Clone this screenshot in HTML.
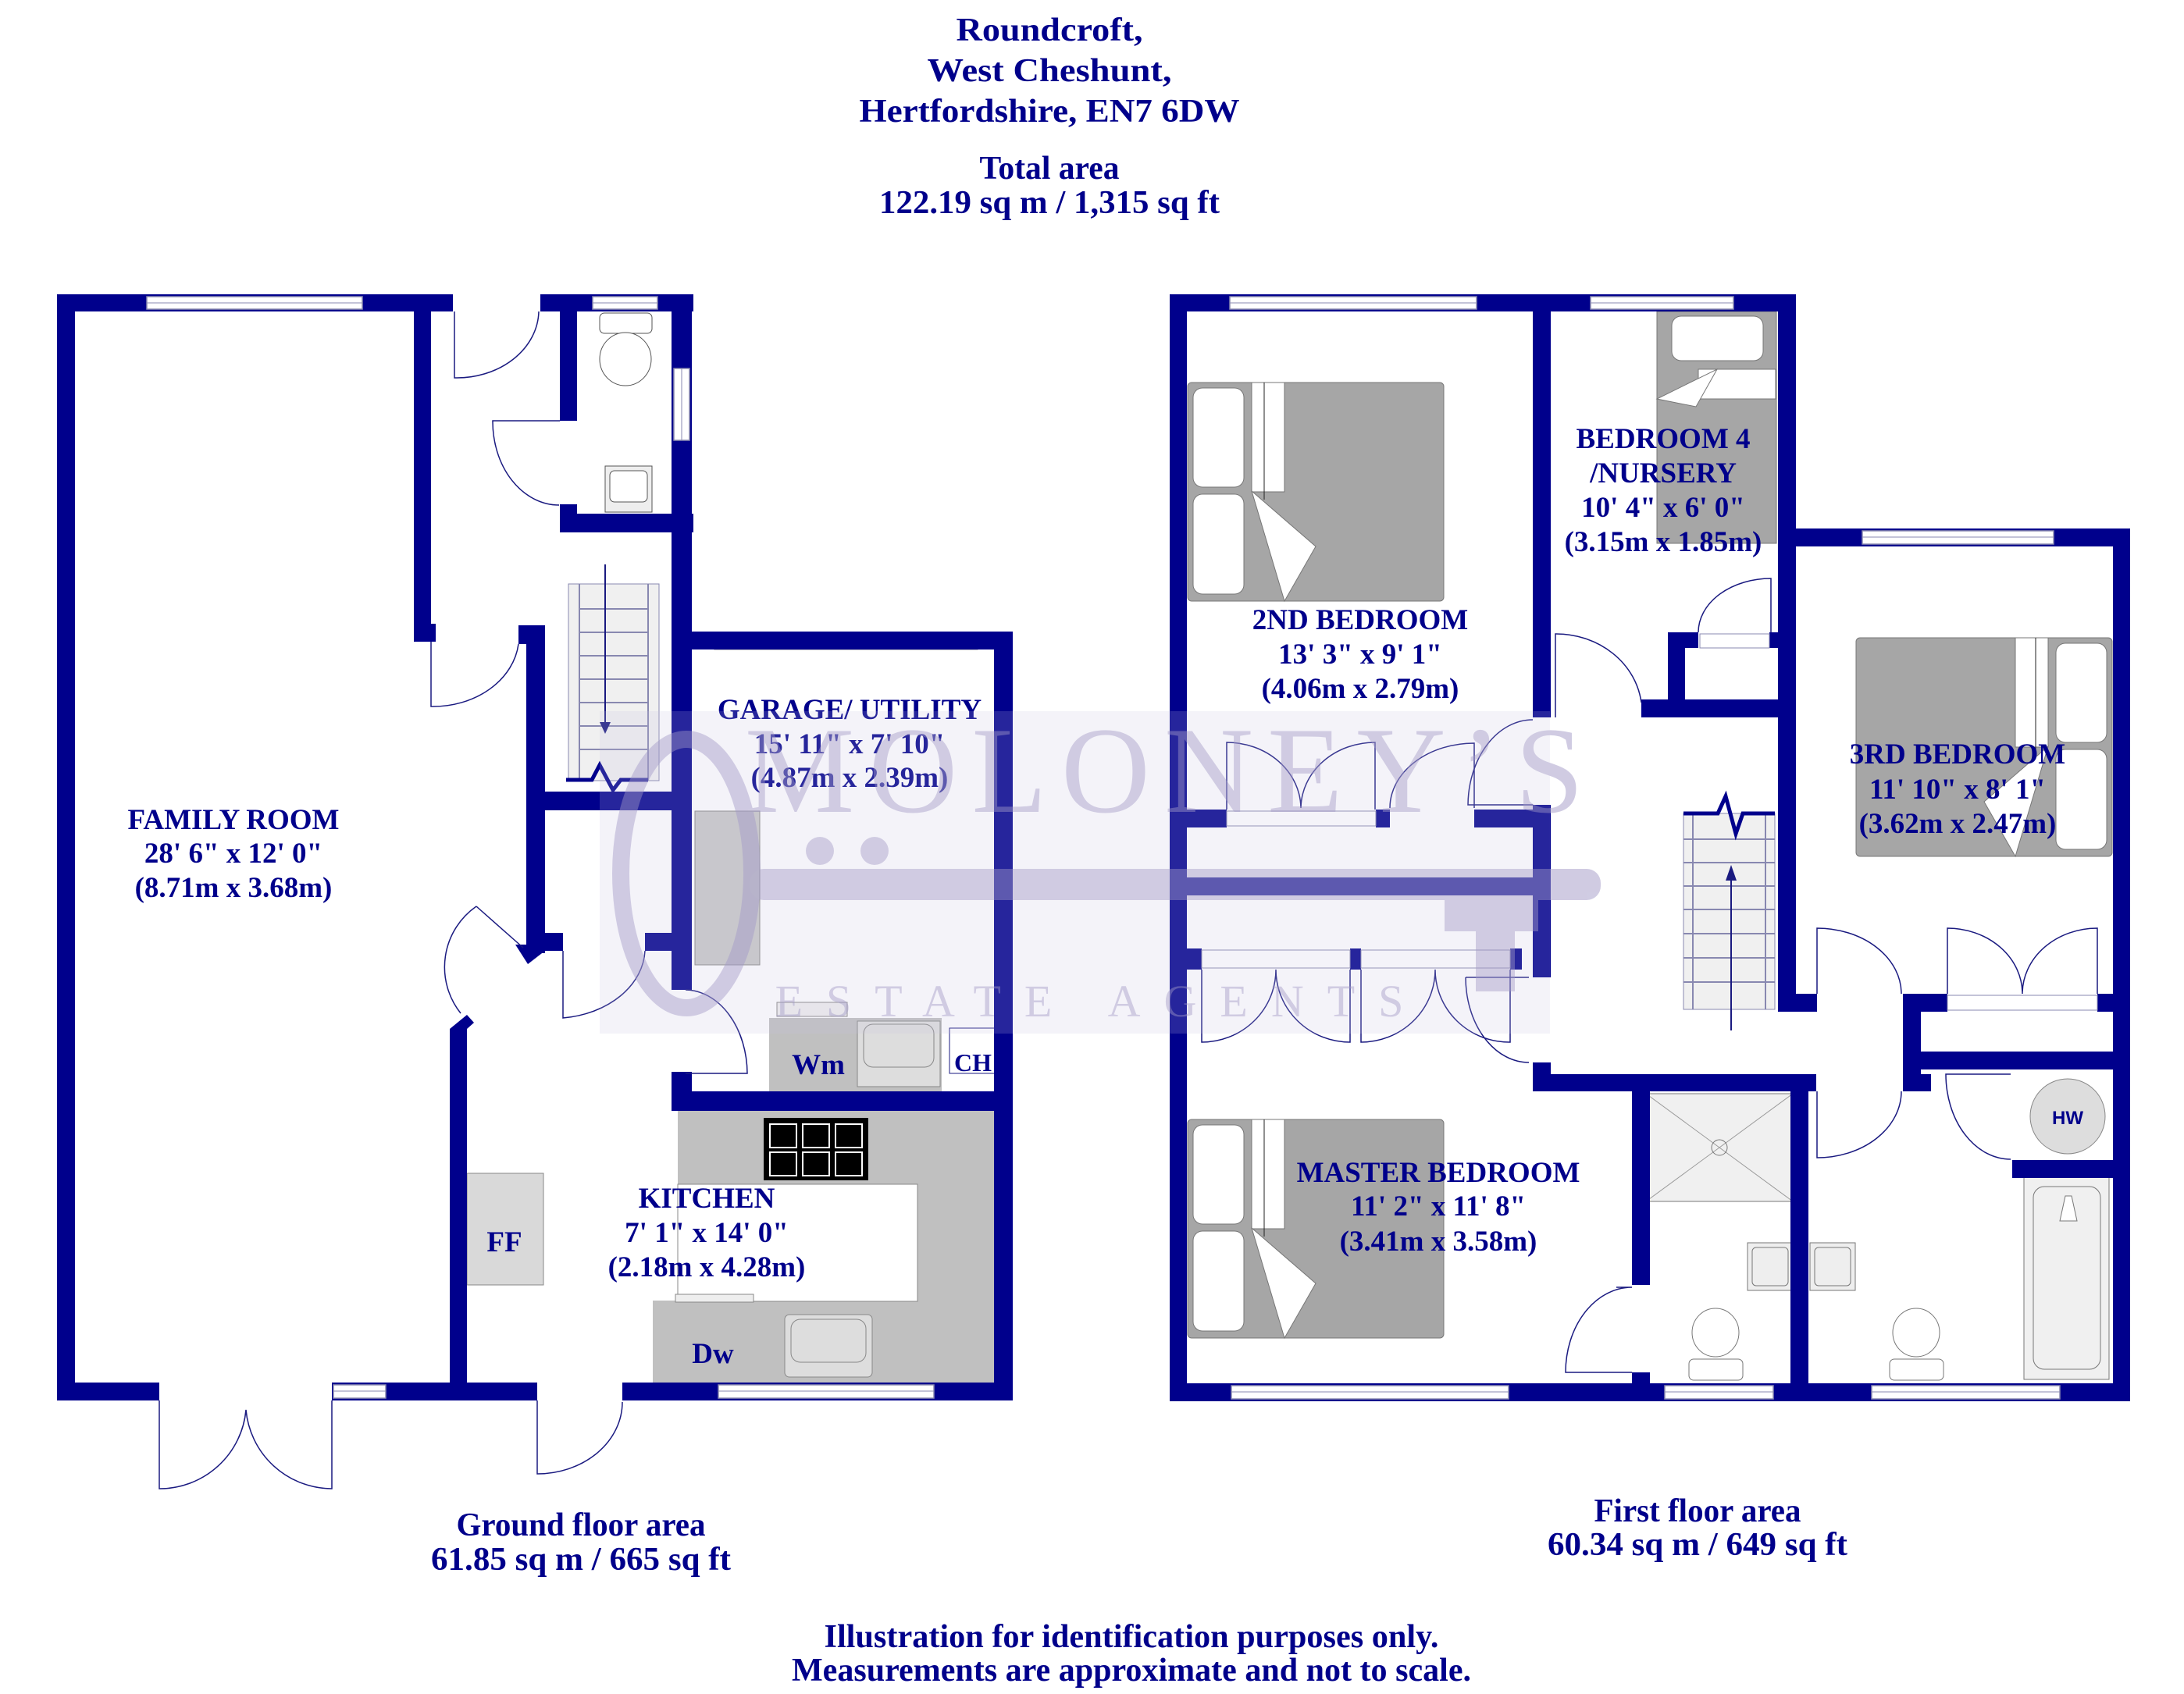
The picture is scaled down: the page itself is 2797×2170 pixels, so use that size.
<!DOCTYPE html>
<html><head><meta charset="utf-8"><style>
html,body{margin:0;padding:0;background:#fff;}
svg{display:block}
.w{fill:#00008c}
.t{font-family:"Liberation Serif",serif;font-weight:bold;fill:#00008b;text-anchor:middle}
.r{font-size:37px}
.h{font-size:42px}
.l{fill:none;stroke:#1a1a80;stroke-width:1.5}
.win{fill:#fff;stroke:#8a8ab0;stroke-width:1.5}
</style></head><body>
<svg width="2797" height="2170" viewBox="0 0 2797 2170" xmlns="http://www.w3.org/2000/svg">
<text class="t h" x="1344" y="52" textLength="239" lengthAdjust="spacingAndGlyphs">Roundcroft,</text>
<text class="t h" x="1344" y="104" textLength="313" lengthAdjust="spacingAndGlyphs">West Cheshunt,</text>
<text class="t h" x="1344" y="156" textLength="487" lengthAdjust="spacingAndGlyphs">Hertfordshire, EN7 6DW</text>
<text class="t h" x="1344" y="229" textLength="179" lengthAdjust="spacingAndGlyphs">Total area</text>
<text class="t h" x="1344" y="273" textLength="436" lengthAdjust="spacingAndGlyphs">122.19 sq m / 1,315 sq ft</text>

<rect x="868" y="1423" width="407" height="95" fill="#c0c0c0"/>
<rect x="1175" y="1517" width="100" height="151" fill="#c0c0c0"/>
<rect x="836" y="1666" width="439" height="105" fill="#c0c0c0"/>
<rect x="868" y="1517" width="307" height="150" fill="#fff" stroke="#888" stroke-width="1"/>
<rect x="978" y="1432" width="134" height="80" fill="#000"/>
<g stroke="#fff" stroke-width="2" fill="none">
<rect x="986" y="1440" width="34" height="30"/><rect x="1028" y="1440" width="34" height="30"/><rect x="1070" y="1440" width="34" height="30"/>
<rect x="986" y="1476" width="34" height="30"/><rect x="1028" y="1476" width="34" height="30"/><rect x="1070" y="1476" width="34" height="30"/>
</g>
<rect x="1005" y="1684" width="112" height="80" rx="6" fill="#ddd" stroke="#888"/>
<rect x="1013" y="1690" width="96" height="55" rx="12" fill="none" stroke="#888"/>
<rect x="865" y="1658" width="100" height="10" fill="#eee" stroke="#888"/>
<rect x="598" y="1503" width="98" height="143" fill="#d9d9d9" stroke="#888"/>
<rect x="890" y="1039" width="83" height="197" fill="#c8c8c8" stroke="#888"/>
<rect x="985" y="1304" width="221" height="94" fill="#c0c0c0"/>
<rect x="1098" y="1308" width="106" height="84" fill="#ddd" stroke="#888"/>
<rect x="1106" y="1312" width="90" height="55" rx="12" fill="none" stroke="#888"/>
<rect x="995" y="1284" width="90" height="18" fill="#eee" stroke="#888"/>
<rect x="1216" y="1317" width="59" height="58" fill="#fff" stroke="#1a1a80"/>
<path d="M920 820 L940 810 L1235 810 L1252 820 L1252 832 L915 832 Z" fill="#ddd" stroke="#888"/>
<rect x="768" y="401" width="67" height="26" rx="6" fill="#fff" stroke="#555"/>
<ellipse cx="801" cy="460" rx="33" ry="34" fill="#fff" stroke="#555"/>
<rect x="775" y="597" width="60" height="59" fill="#eee" stroke="#555"/>
<rect x="781" y="603" width="48" height="40" rx="6" fill="#fff" stroke="#555"/>
<rect x="728" y="748" width="116" height="252" fill="#f0f0f0" stroke="#8888b0"/>
<g stroke="#8888b0" stroke-width="2">
<line x1="742" y1="748" x2="742" y2="1000"/><line x1="830" y1="748" x2="830" y2="1000"/>
<line x1="742" y1="780" x2="830" y2="780"/><line x1="742" y1="810" x2="830" y2="810"/><line x1="742" y1="840" x2="830" y2="840"/><line x1="742" y1="870" x2="830" y2="870"/><line x1="742" y1="900" x2="830" y2="900"/><line x1="742" y1="930" x2="830" y2="930"/><line x1="742" y1="960" x2="830" y2="960"/>
</g>
<line x1="775" y1="723" x2="775" y2="925" stroke="#1a1a80" stroke-width="2"/>
<path d="M768 925 L782 925 L775 940 Z" fill="#1a1a80"/>
<path d="M725 999 L758 999 L768 980 L785 1012 L795 999 L830 999" fill="none" stroke="#00008c" stroke-width="5"/>

<g class="w">
<rect x="73" y="377" width="23" height="1417"/>
<rect x="73" y="377" width="507" height="22"/>
<rect x="530" y="377" width="22" height="445"/>
<rect x="530" y="799" width="28" height="23"/>
<rect x="692" y="377" width="196" height="22"/>
<rect x="717" y="377" width="22" height="162"/>
<rect x="717" y="646" width="22" height="36"/>
<rect x="717" y="658" width="171" height="24"/>
<rect x="860" y="377" width="26" height="891"/>
<rect x="860" y="1373" width="26" height="50"/>
<rect x="860" y="809" width="437" height="23"/>
<rect x="1273" y="809" width="24" height="985"/>
<rect x="860" y="1398" width="437" height="25"/>
<rect x="664" y="801" width="34" height="24"/>
<rect x="674" y="801" width="24" height="420"/>
<rect x="674" y="1014" width="186" height="24"/>
<rect x="674" y="1195" width="47" height="23"/>
<rect x="826" y="1195" width="34" height="23"/>
<path d="M660 1210 L698 1210 L698 1218 L676 1235 Z"/>
<path d="M576 1318 L598 1300 L607 1310 L598 1318 L598 1794 L576 1794 Z"/>
<rect x="73" y="1771" width="131" height="23"/>
<rect x="425" y="1771" width="263" height="23"/>
<rect x="797" y="1771" width="500" height="23"/>
</g>
<rect class="win" x="188" y="380" width="276" height="16"/><line x1="188" y1="388" x2="464" y2="388" stroke="#8a8ab0"/>
<rect class="win" x="759" y="380" width="83" height="16"/><line x1="759" y1="388" x2="842" y2="388" stroke="#8a8ab0"/>
<rect class="win" x="863" y="472" width="20" height="92"/><line x1="873" y1="472" x2="873" y2="564" stroke="#8a8ab0"/>
<rect class="win" x="427" y="1774" width="67" height="17"/><line x1="427" y1="1782" x2="494" y2="1782" stroke="#8a8ab0"/>
<rect class="win" x="920" y="1774" width="276" height="17"/><line x1="920" y1="1782" x2="1196" y2="1782" stroke="#8a8ab0"/>
<path class="l" d="M582 399 L582 484 A105 87 0 0 0 690 399"/>
<path class="l" d="M717 539 L631 539 A85 107 0 0 0 716 647"/>
<path class="l" d="M552 822 L552 905 A110 90 0 0 0 664 825"/>
<path class="l" d="M610 1161 L670 1214 M610 1161 A95 95 0 0 0 590 1298"/>
<path class="l" d="M721 1218 L721 1304 A118 90 0 0 0 826 1218"/>
<path class="l" d="M878 1268 A80 108 0 0 1 957 1375 L878 1375"/>
<path class="l" d="M204 1794 L204 1907 A111 111 0 0 0 315 1806 A111 111 0 0 0 425 1907 L425 1794"/>
<path class="l" d="M688 1794 L688 1888 A109 92 0 0 0 797 1796"/>

<text class="t r" x="299" y="1062">FAMILY ROOM</text>
<text class="t r" x="299" y="1105">28' 6" x 12' 0"</text>
<text class="t r" x="299" y="1149">(8.71m x 3.68m)</text>
<text class="t r" x="1088" y="921">GARAGE/ UTILITY</text>
<text class="t r" x="1088" y="965">15' 11" x 7' 10"</text>
<text class="t r" x="1088" y="1008">(4.87m x 2.39m)</text>
<text class="t r" x="905" y="1547">KITCHEN</text>
<text class="t r" x="905" y="1591">7' 1" x 14' 0"</text>
<text class="t r" x="905" y="1635">(2.18m x 4.28m)</text>
<text class="t r" x="1048" y="1376">Wm</text>
<text class="t r" x="1246" y="1372" style="font-size:32px">CH</text>
<text class="t r" x="913" y="1746">Dw</text>
<text class="t r" x="646" y="1603">FF</text>
<text class="t h" x="744" y="1967" textLength="319" lengthAdjust="spacingAndGlyphs">Ground floor area</text>
<text class="t h" x="744" y="2011" textLength="384" lengthAdjust="spacingAndGlyphs">61.85 sq m / 665 sq ft</text>

<g id="bed">
<rect x="1521" y="490" width="328" height="280" rx="5" fill="#a6a6a6" stroke="#777"/>
<rect x="1528" y="497" width="65" height="127" rx="12" fill="#fff" stroke="#777"/>
<rect x="1528" y="633" width="65" height="128" rx="12" fill="#fff" stroke="#777"/>
<rect x="1603" y="490" width="42" height="140" fill="#fff" stroke="#777"/>
<line x1="1619" y1="490" x2="1619" y2="640" stroke="#222"/>
<path d="M1603 629 L1685 700 L1645 770 Z" fill="#fff" stroke="#777"/>
</g>
<use href="#bed" transform="translate(0,944)"/>
<use href="#bed" transform="translate(4226,327) scale(-1,1)"/>
<rect x="2122" y="399" width="153" height="297" fill="#a6a6a6" stroke="#777"/>
<rect x="2141" y="405" width="117" height="57" rx="12" fill="#fff" stroke="#777"/>
<rect x="2175" y="473" width="99" height="38" fill="#fff" stroke="#777"/>
<path d="M2122 511 L2199 473 L2172 521 Z" fill="#fff" stroke="#777"/>
<rect x="2156" y="1042" width="117" height="251" fill="#f0f0f0" stroke="#8888b0"/>
<g stroke="#8888b0" stroke-width="2">
<line x1="2168" y1="1042" x2="2168" y2="1293"/><line x1="2261" y1="1042" x2="2261" y2="1293"/>
<line x1="2156" y1="1075" x2="2273" y2="1075"/><line x1="2156" y1="1105" x2="2273" y2="1105"/><line x1="2156" y1="1135" x2="2273" y2="1135"/><line x1="2156" y1="1165" x2="2273" y2="1165"/><line x1="2156" y1="1196" x2="2273" y2="1196"/><line x1="2156" y1="1227" x2="2273" y2="1227"/><line x1="2156" y1="1258" x2="2273" y2="1258"/>
</g>
<line x1="2217" y1="1112" x2="2217" y2="1320" stroke="#1a1a80" stroke-width="2"/>
<path d="M2210 1128 L2224 1128 L2217 1108 Z" fill="#1a1a80"/>
<path d="M2156 1042 L2200 1042 L2210 1020 L2223 1068 L2232 1042 L2273 1042" fill="none" stroke="#00008c" stroke-width="5"/>
<rect x="2108" y="1401" width="188" height="138" fill="#f0f0f0" stroke="#777"/>
<path d="M2108 1401 L2296 1539 M2296 1401 L2108 1539" stroke="#999"/>
<circle cx="2202" cy="1470" r="10" fill="none" stroke="#777"/>
<rect x="2238" y="1592" width="58" height="61" fill="#eee" stroke="#777"/>
<rect x="2244" y="1598" width="46" height="49" rx="5" fill="none" stroke="#777"/>
<rect x="2318" y="1592" width="58" height="61" fill="#eee" stroke="#777"/>
<rect x="2324" y="1598" width="46" height="49" rx="5" fill="none" stroke="#777"/>
<g fill="#fff" stroke="#777">
<rect x="2163" y="1741" width="69" height="27" rx="6"/><ellipse cx="2197" cy="1707" rx="30" ry="31"/>
<rect x="2420" y="1741" width="69" height="27" rx="6"/><ellipse cx="2454" cy="1707" rx="30" ry="31"/>
</g>
<rect x="2592" y="1503" width="109" height="264" fill="#f0f0f0" stroke="#777"/>
<rect x="2604" y="1520" width="86" height="234" rx="14" fill="none" stroke="#777"/>
<path d="M2645 1532 L2638 1564 L2660 1564 L2653 1532 Z" fill="#fff" stroke="#777"/>
<ellipse cx="2648" cy="1430" rx="48" ry="48" fill="#ddd" stroke="#888"/>
<text class="t" x="2648" y="1440" style="font-family:'Liberation Sans',sans-serif;font-size:24px">HW</text>

<g class="w">
<rect x="1498" y="377" width="22" height="1418"/>
<rect x="1498" y="377" width="802" height="22"/>
<rect x="1963" y="377" width="23" height="542"/>
<rect x="2102" y="896" width="198" height="23"/>
<rect x="2277" y="377" width="23" height="919"/>
<rect x="2136" y="810" width="22" height="90"/>
<rect x="2136" y="810" width="39" height="20"/>
<rect x="2266" y="810" width="14" height="20"/>
<rect x="1498" y="1037" width="73" height="23"/>
<rect x="1762" y="1037" width="18" height="23"/>
<rect x="1888" y="1037" width="98" height="23"/>
<rect x="1963" y="1031" width="23" height="221"/>
<rect x="1498" y="1124" width="488" height="23"/>
<rect x="1498" y="1215" width="41" height="27"/>
<rect x="1729" y="1215" width="14" height="27"/>
<rect x="1934" y="1215" width="15" height="27"/>
<rect x="1963" y="1361" width="23" height="37"/>
<rect x="1963" y="1376" width="363" height="22"/>
<rect x="2090" y="1398" width="23" height="248"/>
<rect x="2090" y="1758" width="23" height="37"/>
<rect x="2293" y="1398" width="23" height="397"/>
<rect x="2277" y="1273" width="50" height="23"/>
<rect x="2277" y="677" width="451" height="23"/>
<rect x="2706" y="677" width="22" height="1118"/>
<rect x="2437" y="1273" width="57" height="23"/>
<rect x="2686" y="1273" width="42" height="23"/>
<rect x="2437" y="1296" width="23" height="102"/>
<rect x="2437" y="1376" width="36" height="22"/>
<rect x="2451" y="1347" width="277" height="23"/>
<rect x="2577" y="1486" width="129" height="23"/>
<rect x="1498" y="1772" width="1230" height="23"/>
</g>
<rect class="win" x="1575" y="380" width="316" height="16"/><line x1="1575" y1="388" x2="1891" y2="388" stroke="#8a8ab0"/>
<rect class="win" x="2037" y="380" width="183" height="16"/><line x1="2037" y1="388" x2="2220" y2="388" stroke="#8a8ab0"/>
<rect class="win" x="2385" y="680" width="245" height="17"/><line x1="2385" y1="688" x2="2630" y2="688" stroke="#8a8ab0"/>
<rect class="win" x="1577" y="1775" width="355" height="17"/><line x1="1577" y1="1783" x2="1932" y2="1783" stroke="#8a8ab0"/>
<rect class="win" x="2132" y="1775" width="139" height="17"/><line x1="2132" y1="1783" x2="2271" y2="1783" stroke="#8a8ab0"/>
<rect class="win" x="2397" y="1775" width="241" height="17"/><line x1="2397" y1="1783" x2="2638" y2="1783" stroke="#8a8ab0"/>
<rect x="1571" y="1039" width="191" height="19" fill="#fff" stroke="#8a8ab0"/>
<rect x="1539" y="1217" width="190" height="23" fill="#fff" stroke="#8a8ab0"/>
<rect x="1743" y="1217" width="191" height="23" fill="#fff" stroke="#8a8ab0"/>
<rect x="2494" y="1275" width="192" height="19" fill="#fff" stroke="#8a8ab0"/>
<rect x="2177" y="812" width="89" height="18" fill="#fff" stroke="#8a8ab0"/>
<path class="l" d="M1571 1037 L1571 951 A95 85 0 0 1 1666 1035 A95 85 0 0 1 1761 951 L1761 1037"/>
<path class="l" d="M1780 1035 A108 83 0 0 1 1888 952 L1888 1035"/>
<path class="l" d="M1963 922 A83 110 0 0 0 1880 1031 L1963 1031"/>
<path class="l" d="M1539 1242 L1539 1335 A95 93 0 0 0 1634 1242 A95 93 0 0 0 1729 1335 L1729 1242"/>
<path class="l" d="M1743 1242 L1743 1335 A95 93 0 0 0 1838 1242 A95 93 0 0 0 1934 1335 L1934 1242"/>
<path class="l" d="M1877 1252 L1958 1252 M1877 1252 A81 109 0 0 0 1958 1361"/>
<path class="l" d="M1992 919 L1992 812 A110 100 0 0 1 2102 900"/>
<path class="l" d="M2175 810 A93 69 0 0 1 2268 741 L2268 810"/>
<path class="l" d="M2327 1273 L2327 1189 A108 84 0 0 1 2435 1273"/>
<path class="l" d="M2327 1398 L2327 1483 A108 85 0 0 0 2435 1398"/>
<path class="l" d="M2494 1273 L2494 1189 A96 84 0 0 1 2590 1273 A96 84 0 0 1 2686 1189 L2686 1273"/>
<path class="l" d="M2575 1376 L2492 1376 A83 109 0 0 0 2575 1485"/>
<path class="l" d="M2090 1649 L2070 1649 M2090 1649 A85 109 0 0 0 2005 1758 L2090 1758"/>

<text class="t r" x="2130" y="574">BEDROOM 4</text>
<text class="t r" x="2130" y="618">/NURSERY</text>
<text class="t r" x="2130" y="662">10' 4" x 6' 0"</text>
<text class="t r" x="2130" y="706">(3.15m x 1.85m)</text>
<text class="t r" x="1742" y="806">2ND BEDROOM</text>
<text class="t r" x="1742" y="850">13' 3" x 9' 1"</text>
<text class="t r" x="1742" y="894">(4.06m x 2.79m)</text>
<text class="t r" x="2507" y="978">3RD BEDROOM</text>
<text class="t r" x="2507" y="1023">11' 10" x 8' 1"</text>
<text class="t r" x="2507" y="1067">(3.62m x 2.47m)</text>
<text class="t r" x="1842" y="1514">MASTER BEDROOM</text>
<text class="t r" x="1842" y="1557">11' 2" x 11' 8"</text>
<text class="t r" x="1842" y="1602">(3.41m x 3.58m)</text>
<text class="t h" x="2174" y="1949" textLength="265" lengthAdjust="spacingAndGlyphs">First floor area</text>
<text class="t h" x="2174" y="1992" textLength="384" lengthAdjust="spacingAndGlyphs">60.34 sq m / 649 sq ft</text>
<text class="t h" x="1449" y="2110" textLength="787" lengthAdjust="spacingAndGlyphs">Illustration for identification purposes only.</text>
<text class="t h" x="1449" y="2153" textLength="870" lengthAdjust="spacingAndGlyphs">Measurements are approximate and not to scale.</text>

<g opacity="0.55">
<rect x="768" y="911" width="1217" height="413" fill="#c9c4e0" opacity="0.35"/>
<ellipse cx="879" cy="1119" rx="84" ry="172" fill="none" stroke="#a8a0cc" stroke-width="22"/>
<rect x="960" y="1113" width="1090" height="40" rx="18" fill="#aaa2cc"/>
<circle cx="1050" cy="1090" r="18" fill="#aaa2cc"/><circle cx="1120" cy="1090" r="18" fill="#aaa2cc"/>
<rect x="1850" y="1153" width="120" height="40" fill="#aaa2cc"/>
<rect x="1890" y="1190" width="50" height="80" fill="#aaa2cc"/>
<text x="1500" y="1040" text-anchor="middle" style="font-family:'Liberation Serif',serif;font-size:158px;fill:#aaa2cc;letter-spacing:18px">MOLONEY’S</text>
<text x="1410" y="1302" text-anchor="middle" style="font-family:'Liberation Serif',serif;font-size:58px;fill:#aaa2cc;letter-spacing:30px">ESTATE AGENTS</text>
</g>
</svg>
</body></html>
